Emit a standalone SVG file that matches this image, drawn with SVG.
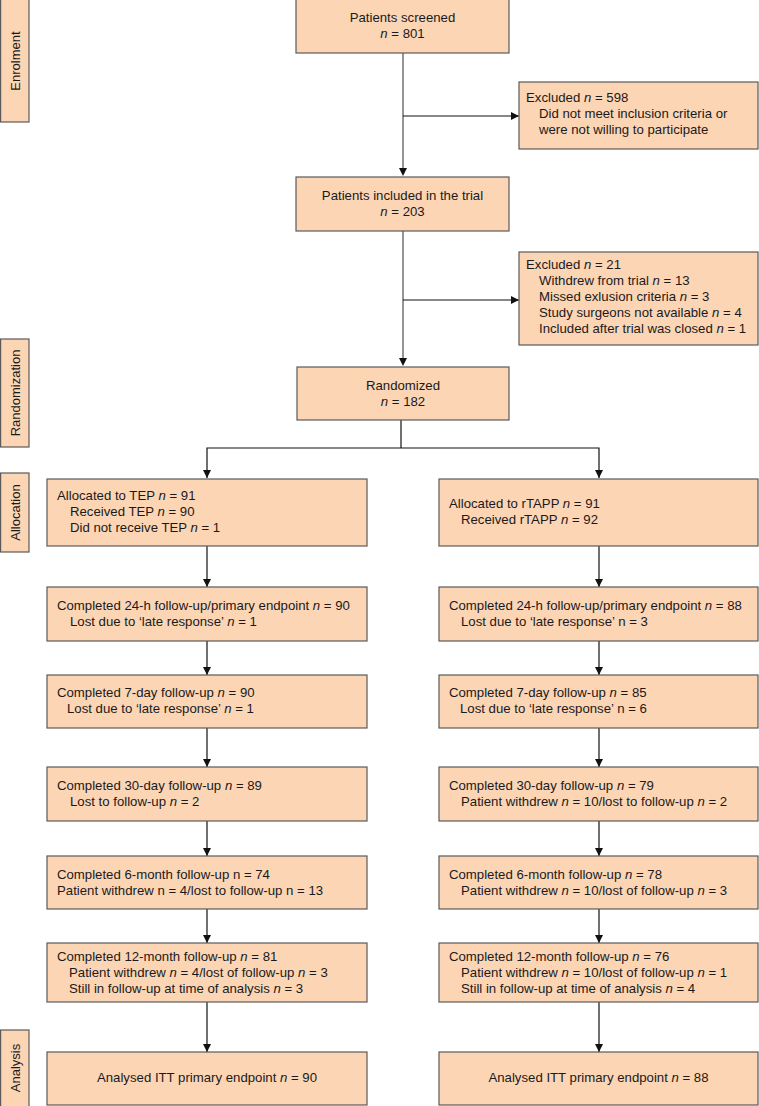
<svg xmlns="http://www.w3.org/2000/svg" width="759" height="1106" viewBox="0 0 759 1106">
<style>
.box{fill:#FCD5B5;stroke:#5a5a5a;stroke-width:1.2}
.t{font-family:"Liberation Sans",Arial,sans-serif;font-size:13.2px;fill:#1a1a1a}
.c{text-anchor:middle}
.side{font-family:"Liberation Sans",Arial,sans-serif;font-size:13px;fill:#1a1a1a;text-anchor:middle}
.i{font-style:italic}
.ln{stroke:#111;stroke-width:1.2;fill:none}
.gl{stroke:#8a8a8a;stroke-width:1.8;fill:none}
</style>
<defs>
<marker id="ah" markerUnits="userSpaceOnUse" markerWidth="9" markerHeight="9" refX="8" refY="4" orient="auto">
<path d="M0,0 L8,4 L0,8 Z" fill="#111"/>
</marker>
</defs>
<rect width="759" height="1106" fill="#ffffff"/>

<g id="side-enrolment"><rect class="box" x="0.6" y="-1" width="28.4" height="123"/><text class="side" transform="translate(19.5,61) rotate(-90)">Enrolment</text></g>
<g id="side-randomization"><rect class="box" x="0.6" y="339" width="28.4" height="108"/><text class="side" transform="translate(19.5,393) rotate(-90)">Randomization</text></g>
<g id="side-allocation"><rect class="box" x="0.6" y="473" width="28.4" height="79"/><text class="side" transform="translate(19.5,512.5) rotate(-90)">Allocation</text></g>
<g id="side-analysis"><rect class="box" x="0.6" y="1030" width="28.4" height="80"/><text class="side" transform="translate(19.5,1068) rotate(-90)">Analysis</text></g>

<g id="connectors">
<line class="gl" x1="403" y1="53" x2="403" y2="168"/>
<path d="M399,168 L407,168 L403,176 Z" fill="#111"/>
<line class="ln" x1="403" y1="116" x2="519" y2="116" marker-end="url(#ah)"/>
<line class="gl" x1="403" y1="231" x2="403" y2="358"/>
<path d="M399,358 L407,358 L403,366 Z" fill="#111"/>
<line class="ln" x1="403" y1="300" x2="519" y2="300" marker-end="url(#ah)"/>
<polyline class="ln" points="401,420 401,448"/>
<polyline class="ln" points="207,478 207,448 599,448 599,478"/>
<path d="M203,470 L211,470 L207,478 Z" fill="#111"/>
<path d="M595,470 L603,470 L599,478 Z" fill="#111"/>
<line class="ln" x1="207" y1="546" x2="207" y2="587" marker-end="url(#ah)"/>
<line class="ln" x1="207" y1="641" x2="207" y2="675" marker-end="url(#ah)"/>
<line class="ln" x1="207" y1="728" x2="207" y2="767" marker-end="url(#ah)"/>
<line class="ln" x1="207" y1="821" x2="207" y2="856" marker-end="url(#ah)"/>
<line class="ln" x1="207" y1="909" x2="207" y2="943" marker-end="url(#ah)"/>
<line class="ln" x1="207" y1="1002" x2="207" y2="1052" marker-end="url(#ah)"/>
<line class="ln" x1="599" y1="546" x2="599" y2="587" marker-end="url(#ah)"/>
<line class="ln" x1="599" y1="641" x2="599" y2="675" marker-end="url(#ah)"/>
<line class="ln" x1="599" y1="728" x2="599" y2="767" marker-end="url(#ah)"/>
<line class="ln" x1="599" y1="821" x2="599" y2="856" marker-end="url(#ah)"/>
<line class="ln" x1="599" y1="909" x2="599" y2="943" marker-end="url(#ah)"/>
<line class="ln" x1="599" y1="1002" x2="599" y2="1052" marker-end="url(#ah)"/>
</g>

<g id="screened"><rect class="box" x="296" y="-1" width="213" height="54"/>
<text class="t c" x="402.5" y="22">Patients screened</text>
<text class="t c" x="402.5" y="38"><tspan class="i">n</tspan> = 801</text></g>

<g id="excluded598"><rect class="box" x="519" y="82" width="239" height="67"/>
<text class="t" x="526" y="102">Excluded <tspan class="i">n</tspan> = 598</text>
<text class="t" x="539" y="118">Did not meet inclusion criteria or</text>
<text class="t" x="539" y="134">were not willing to participate</text></g>

<g id="included"><rect class="box" x="296" y="177" width="213" height="54"/>
<text class="t c" x="402.5" y="200">Patients included in the trial</text>
<text class="t c" x="402.5" y="216"><tspan class="i">n</tspan> = 203</text></g>

<g id="excluded21"><rect class="box" x="519" y="252" width="239" height="93"/>
<text class="t" x="526" y="269">Excluded <tspan class="i">n</tspan> = 21</text>
<text class="t" x="539" y="285">Withdrew from trial <tspan class="i">n</tspan> = 13</text>
<text class="t" x="539" y="301">Missed exlusion criteria <tspan class="i">n</tspan> = 3</text>
<text class="t" x="539" y="317">Study surgeons not available <tspan class="i">n</tspan> = 4</text>
<text class="t" x="539" y="333">Included after trial was closed <tspan class="i">n</tspan> = 1</text></g>

<g id="randomized"><rect class="box" x="297" y="367" width="212" height="53"/>
<text class="t c" x="403" y="390">Randomized</text>
<text class="t c" x="403" y="406"><tspan class="i">n</tspan> = 182</text></g>

<g id="alloc-tep"><rect class="box" x="47" y="479" width="320" height="67"/>
<text class="t" x="57" y="500">Allocated to TEP <tspan class="i">n</tspan> = 91</text>
<text class="t" x="70" y="516">Received TEP <tspan class="i">n</tspan> = 90</text>
<text class="t" x="70" y="532">Did not receive TEP <tspan class="i">n</tspan> = 1</text></g>

<g id="alloc-rtapp"><rect class="box" x="439" y="479" width="319" height="67"/>
<text class="t" x="449" y="508">Allocated to rTAPP <tspan class="i">n</tspan> = 91</text>
<text class="t" x="461" y="524">Received rTAPP <tspan class="i">n</tspan> = 92</text></g>

<g id="tep-24h"><rect class="box" x="47" y="587" width="320" height="54"/>
<text class="t" x="57" y="610">Completed 24-h follow-up/primary endpoint <tspan class="i">n</tspan> = 90</text>
<text class="t" x="70" y="626">Lost due to ‘late response’ <tspan class="i">n</tspan> = 1</text></g>

<g id="rtapp-24h"><rect class="box" x="439" y="587" width="319" height="54"/>
<text class="t" x="449" y="610">Completed 24-h follow-up/primary endpoint <tspan class="i">n</tspan> = 88</text>
<text class="t" x="461" y="626">Lost due to ‘late response’ n = 3</text></g>

<g id="tep-7d"><rect class="box" x="47" y="675" width="320" height="53"/>
<text class="t" x="57" y="697">Completed 7-day follow-up <tspan class="i">n</tspan> = 90</text>
<text class="t" x="67" y="713">Lost due to ‘late response’ <tspan class="i">n</tspan> = 1</text></g>

<g id="rtapp-7d"><rect class="box" x="439" y="675" width="319" height="53"/>
<text class="t" x="449" y="697">Completed 7-day follow-up <tspan class="i">n</tspan> = 85</text>
<text class="t" x="460" y="713">Lost due to ‘late response’ n = 6</text></g>

<g id="tep-30d"><rect class="box" x="47" y="767" width="320" height="54"/>
<text class="t" x="57" y="790">Completed 30-day follow-up <tspan class="i">n</tspan> = 89</text>
<text class="t" x="70" y="806">Lost to follow-up <tspan class="i">n</tspan> = 2</text></g>

<g id="rtapp-30d"><rect class="box" x="439" y="767" width="319" height="54"/>
<text class="t" x="449" y="790">Completed 30-day follow-up <tspan class="i">n</tspan> = 79</text>
<text class="t" x="461" y="806">Patient withdrew <tspan class="i">n</tspan> = 10/lost to follow-up <tspan class="i">n</tspan> = 2</text></g>

<g id="tep-6m"><rect class="box" x="47" y="856" width="320" height="53"/>
<text class="t" x="57" y="879">Completed 6-month follow-up n = 74</text>
<text class="t" x="57" y="895">Patient withdrew n = 4/lost to follow-up n = 13</text></g>

<g id="rtapp-6m"><rect class="box" x="439" y="856" width="319" height="53"/>
<text class="t" x="449" y="879">Completed 6-month follow-up <tspan class="i">n</tspan> = 78</text>
<text class="t" x="461" y="895">Patient withdrew <tspan class="i">n</tspan> = 10/lost of follow-up <tspan class="i">n</tspan> = 3</text></g>

<g id="tep-12m"><rect class="box" x="47" y="943" width="320" height="59"/>
<text class="t" x="57" y="961">Completed 12-month follow-up <tspan class="i">n</tspan> = 81</text>
<text class="t" x="69" y="977">Patient withdrew <tspan class="i">n</tspan> = 4/lost of follow-up <tspan class="i">n</tspan> = 3</text>
<text class="t" x="69" y="993">Still in follow-up at time of analysis <tspan class="i">n</tspan> = 3</text></g>

<g id="rtapp-12m"><rect class="box" x="439" y="943" width="319" height="59"/>
<text class="t" x="449" y="961">Completed 12-month follow-up <tspan class="i">n</tspan> = 76</text>
<text class="t" x="461" y="977">Patient withdrew <tspan class="i">n</tspan> = 10/lost of follow-up <tspan class="i">n</tspan> = 1</text>
<text class="t" x="461" y="993">Still in follow-up at time of analysis <tspan class="i">n</tspan> = 4</text></g>

<g id="tep-analysed"><rect class="box" x="47" y="1052" width="320" height="53"/>
<text class="t c" x="207" y="1082">Analysed ITT primary endpoint <tspan class="i">n</tspan> = 90</text></g>

<g id="rtapp-analysed"><rect class="box" x="439" y="1052" width="319" height="53"/>
<text class="t c" x="598.5" y="1082">Analysed ITT primary endpoint <tspan class="i">n</tspan> = 88</text></g>
</svg>
